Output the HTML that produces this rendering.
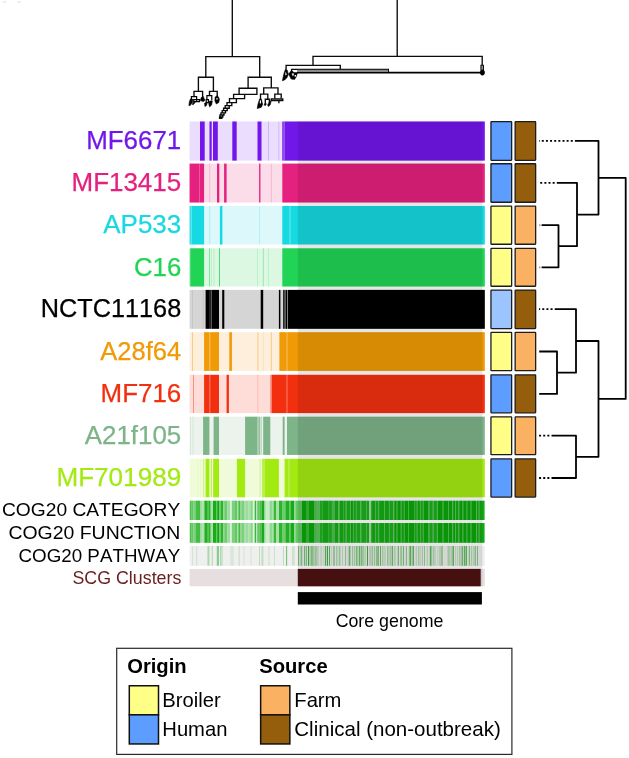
<!DOCTYPE html>
<html lang="en">
<head>
<meta charset="utf-8">
<title>Pangenome</title>
<style>
html,body{margin:0;padding:0;background:#fff;}
body{width:629px;height:758px;overflow:hidden;font-family:"Liberation Sans",Arial,sans-serif;}
svg{display:block;}
</style>
</head>
<body>
<svg width="629" height="758" viewBox="0 0 629 758" font-family="Liberation Sans, Arial, Helvetica, sans-serif" style="font-kerning:none">
<rect width="629" height="758" fill="#ffffff"/>
<ellipse cx="4.4" cy="2" rx="2" ry="0.9" fill="#ebebeb"/><ellipse cx="19" cy="2" rx="2.2" ry="0.9" fill="#ebebeb"/>
<g shape-rendering="auto">
<rect x="189.6" y="121.5" width="295.2" height="39.1" fill="#eaddfd"/>
<rect x="200.0" y="121.5" width="4.7" height="39.1" fill="#7217ea"/>
<rect x="209.5" y="121.5" width="2.2" height="39.1" fill="#7217ea"/>
<rect x="213.0" y="121.5" width="4.8" height="39.1" fill="#7217ea"/>
<rect x="232.3" y="121.5" width="4.4" height="39.1" fill="#7217ea"/>
<rect x="257.5" y="121.5" width="3.5" height="39.1" fill="#7217ea"/>
<rect x="261.0" y="121.5" width="1.0" height="39.1" fill="#7217ea" fill-opacity="0.5"/>
<rect x="268.1" y="121.5" width="0.6" height="39.1" fill="#7217ea" fill-opacity="0.35"/>
<rect x="278.6" y="121.5" width="0.6" height="39.1" fill="#7217ea" fill-opacity="0.3"/>
<rect x="282.3" y="121.5" width="1.4" height="39.1" fill="#7217ea"/>
<rect x="283.7" y="121.5" width="0.7" height="39.1" fill="#7217ea" fill-opacity="0.55"/>
<rect x="284.4" y="121.5" width="200.4" height="39.1" fill="#7217ea"/>
<rect x="189.6" y="163.6" width="295.2" height="38.9" fill="#fbdde9"/>
<rect x="189.6" y="163.6" width="9.4" height="38.9" fill="#e4217e"/>
<rect x="199.0" y="163.6" width="0.6" height="38.9" fill="#e4217e" fill-opacity="0.85"/>
<rect x="199.6" y="163.6" width="4.5" height="38.9" fill="#e4217e"/>
<rect x="209.5" y="163.6" width="0.6" height="38.9" fill="#e4217e" fill-opacity="0.35"/>
<rect x="217.0" y="163.6" width="2.3" height="38.9" fill="#e4217e"/>
<rect x="224.1" y="163.6" width="2.5" height="38.9" fill="#e4217e"/>
<rect x="259.0" y="163.6" width="1.5" height="38.9" fill="#e4217e" fill-opacity="0.9"/>
<rect x="270.9" y="163.6" width="0.6" height="38.9" fill="#e4217e" fill-opacity="0.35"/>
<rect x="282.3" y="163.6" width="202.5" height="38.9" fill="#e4217e"/>
<rect x="189.6" y="206.0" width="295.2" height="38.5" fill="#dcf8fa"/>
<rect x="189.6" y="206.0" width="1.2" height="38.5" fill="#17d9e1"/>
<rect x="190.8" y="206.0" width="0.6" height="38.5" fill="#17d9e1" fill-opacity="0.3"/>
<rect x="191.4" y="206.0" width="12.7" height="38.5" fill="#17d9e1"/>
<rect x="209.5" y="206.0" width="0.6" height="38.5" fill="#17d9e1" fill-opacity="0.4"/>
<rect x="219.9" y="206.0" width="2.5" height="38.5" fill="#17d9e1"/>
<rect x="259.1" y="206.0" width="0.6" height="38.5" fill="#17d9e1" fill-opacity="0.35"/>
<rect x="282.3" y="206.0" width="7.4" height="38.5" fill="#17d9e1"/>
<rect x="289.7" y="206.0" width="0.6" height="38.5" fill="#17d9e1" fill-opacity="0.8"/>
<rect x="290.3" y="206.0" width="194.5" height="38.5" fill="#17d9e1"/>
<rect x="189.6" y="248.3" width="295.2" height="38.2" fill="#dcf8e3"/>
<rect x="189.6" y="248.3" width="0.7" height="38.2" fill="#22d455" fill-opacity="0.5"/>
<rect x="190.3" y="248.3" width="13.8" height="38.2" fill="#22d455"/>
<rect x="209.1" y="248.3" width="0.7" height="38.2" fill="#22d455" fill-opacity="0.7"/>
<rect x="211.4" y="248.3" width="0.6" height="38.2" fill="#22d455" fill-opacity="0.3"/>
<rect x="213.7" y="248.3" width="0.6" height="38.2" fill="#22d455" fill-opacity="0.3"/>
<rect x="219.1" y="248.3" width="0.8" height="38.2" fill="#22d455"/>
<rect x="257.2" y="248.3" width="0.6" height="38.2" fill="#22d455" fill-opacity="0.3"/>
<rect x="262.9" y="248.3" width="0.6" height="38.2" fill="#22d455" fill-opacity="0.6"/>
<rect x="268.3" y="248.3" width="0.6" height="38.2" fill="#22d455" fill-opacity="0.3"/>
<rect x="282.3" y="248.3" width="202.5" height="38.2" fill="#22d455"/>
<rect x="189.6" y="289.9" width="295.2" height="38.9" fill="#d5d5d5"/>
<rect x="192.3" y="289.9" width="0.6" height="38.9" fill="#000000" fill-opacity="0.12"/>
<rect x="202.8" y="289.9" width="0.6" height="38.9" fill="#000000" fill-opacity="0.12"/>
<rect x="205.6" y="289.9" width="4.2" height="38.9" fill="#000000"/>
<rect x="209.8" y="289.9" width="1.2" height="38.9" fill="#000000" fill-opacity="0.85"/>
<rect x="211.0" y="289.9" width="0.7" height="38.9" fill="#000000" fill-opacity="0.6"/>
<rect x="211.7" y="289.9" width="7.3" height="38.9" fill="#000000"/>
<rect x="222.2" y="289.9" width="2.1" height="38.9" fill="#000000"/>
<rect x="260.7" y="289.9" width="2.5" height="38.9" fill="#000000"/>
<rect x="278.9" y="289.9" width="1.5" height="38.9" fill="#000000"/>
<rect x="283.2" y="289.9" width="1.4" height="38.9" fill="#000000"/>
<rect x="284.6" y="289.9" width="0.9" height="38.9" fill="#000000" fill-opacity="0.3"/>
<rect x="285.5" y="289.9" width="1.5" height="38.9" fill="#000000"/>
<rect x="287.0" y="289.9" width="1.0" height="38.9" fill="#000000" fill-opacity="0.4"/>
<rect x="288.0" y="289.9" width="196.8" height="38.9" fill="#000000"/>
<rect x="189.6" y="332.2" width="295.2" height="38.7" fill="#fdefdc"/>
<rect x="192.3" y="332.2" width="0.7" height="38.7" fill="#f09a05" fill-opacity="0.6"/>
<rect x="204.1" y="332.2" width="5.3" height="38.7" fill="#f09a05"/>
<rect x="209.4" y="332.2" width="0.8" height="38.7" fill="#f09a05" fill-opacity="0.75"/>
<rect x="210.2" y="332.2" width="8.8" height="38.7" fill="#f09a05"/>
<rect x="229.3" y="332.2" width="2.6" height="38.7" fill="#f09a05"/>
<rect x="257.6" y="332.2" width="0.7" height="38.7" fill="#f09a05" fill-opacity="0.6"/>
<rect x="262.9" y="332.2" width="0.6" height="38.7" fill="#f09a05" fill-opacity="0.25"/>
<rect x="270.9" y="332.2" width="0.7" height="38.7" fill="#f09a05" fill-opacity="0.6"/>
<rect x="279.4" y="332.2" width="7.3" height="38.7" fill="#f09a05"/>
<rect x="286.7" y="332.2" width="0.6" height="38.7" fill="#f09a05" fill-opacity="0.8"/>
<rect x="287.3" y="332.2" width="197.5" height="38.7" fill="#f09a05"/>
<rect x="189.6" y="374.8" width="295.2" height="38.3" fill="#fedcd8"/>
<rect x="193.3" y="374.8" width="0.7" height="38.3" fill="#f2300f" fill-opacity="0.6"/>
<rect x="204.1" y="374.8" width="5.3" height="38.3" fill="#f2300f"/>
<rect x="209.4" y="374.8" width="0.8" height="38.3" fill="#f2300f" fill-opacity="0.8"/>
<rect x="210.2" y="374.8" width="8.8" height="38.3" fill="#f2300f"/>
<rect x="226.6" y="374.8" width="2.3" height="38.3" fill="#f2300f"/>
<rect x="257.6" y="374.8" width="0.6" height="38.3" fill="#f2300f" fill-opacity="0.3"/>
<rect x="270.3" y="374.8" width="1.5" height="38.3" fill="#f2300f" fill-opacity="0.5"/>
<rect x="271.8" y="374.8" width="14.9" height="38.3" fill="#f2300f"/>
<rect x="286.7" y="374.8" width="0.6" height="38.3" fill="#f2300f" fill-opacity="0.75"/>
<rect x="287.3" y="374.8" width="197.5" height="38.3" fill="#f2300f"/>
<rect x="189.6" y="416.7" width="295.2" height="38.2" fill="#ecf3ed"/>
<rect x="190.4" y="416.7" width="0.6" height="38.2" fill="#7db488" fill-opacity="0.3"/>
<rect x="192.7" y="416.7" width="0.6" height="38.2" fill="#7db488" fill-opacity="0.3"/>
<rect x="203.1" y="416.7" width="6.3" height="38.2" fill="#7db488"/>
<rect x="213.6" y="416.7" width="5.4" height="38.2" fill="#7db488"/>
<rect x="245.1" y="416.7" width="12.4" height="38.2" fill="#7db488"/>
<rect x="257.5" y="416.7" width="1.1" height="38.2" fill="#7db488" fill-opacity="0.5"/>
<rect x="258.6" y="416.7" width="1.2" height="38.2" fill="#7db488"/>
<rect x="260.7" y="416.7" width="0.8" height="38.2" fill="#7db488" fill-opacity="0.8"/>
<rect x="263.2" y="416.7" width="7.1" height="38.2" fill="#7db488"/>
<rect x="282.7" y="416.7" width="1.9" height="38.2" fill="#7db488"/>
<rect x="287.0" y="416.7" width="197.8" height="38.2" fill="#7db488"/>
<rect x="189.6" y="458.8" width="295.2" height="38.5" fill="#f0fcd9"/>
<rect x="197.5" y="458.8" width="0.6" height="38.5" fill="#a3ea12" fill-opacity="0.15"/>
<rect x="200.0" y="458.8" width="0.6" height="38.5" fill="#a3ea12" fill-opacity="0.15"/>
<rect x="203.4" y="458.8" width="0.7" height="38.5" fill="#a3ea12" fill-opacity="0.7"/>
<rect x="205.6" y="458.8" width="3.8" height="38.5" fill="#a3ea12"/>
<rect x="210.8" y="458.8" width="0.9" height="38.5" fill="#a3ea12" fill-opacity="0.9"/>
<rect x="213.2" y="458.8" width="5.8" height="38.5" fill="#a3ea12"/>
<rect x="236.9" y="458.8" width="8.2" height="38.5" fill="#a3ea12"/>
<rect x="259.7" y="458.8" width="0.7" height="38.5" fill="#a3ea12" fill-opacity="0.6"/>
<rect x="262.3" y="458.8" width="1.3" height="38.5" fill="#a3ea12"/>
<rect x="263.6" y="458.8" width="0.8" height="38.5" fill="#a3ea12" fill-opacity="0.5"/>
<rect x="264.4" y="458.8" width="14.5" height="38.5" fill="#a3ea12"/>
<rect x="284.6" y="458.8" width="4.1" height="38.5" fill="#a3ea12"/>
<rect x="288.7" y="458.8" width="0.6" height="38.5" fill="#a3ea12" fill-opacity="0.8"/>
<rect x="289.3" y="458.8" width="195.5" height="38.5" fill="#a3ea12"/>
</g>
<text x="181.2" y="149.2" font-size="25.5" text-anchor="end" fill="#7217ea" stroke="#7217ea" stroke-width="0.25" textLength="95.0" lengthAdjust="spacingAndGlyphs">MF6671</text>
<text x="181.2" y="191.2" font-size="25.5" text-anchor="end" fill="#e4217e" stroke="#e4217e" stroke-width="0.25" textLength="109.7" lengthAdjust="spacingAndGlyphs">MF13415</text>
<text x="181.2" y="233.4" font-size="25.5" text-anchor="end" fill="#17d9e1" stroke="#17d9e1" stroke-width="0.25" textLength="77.9" lengthAdjust="spacingAndGlyphs">AP533</text>
<text x="181.2" y="275.5" font-size="25.5" text-anchor="end" fill="#22d455" stroke="#22d455" stroke-width="0.25" textLength="47.2" lengthAdjust="spacingAndGlyphs">C16</text>
<text x="181.2" y="317.4" font-size="25.5" text-anchor="end" fill="#000000" stroke="#000000" stroke-width="0.25" textLength="140.5" lengthAdjust="spacingAndGlyphs">NCTC11168</text>
<text x="181.2" y="359.7" font-size="25.5" text-anchor="end" fill="#f09a05" stroke="#f09a05" stroke-width="0.25" textLength="80.9" lengthAdjust="spacingAndGlyphs">A28f64</text>
<text x="181.2" y="402.1" font-size="25.5" text-anchor="end" fill="#f2300f" stroke="#f2300f" stroke-width="0.25" textLength="80.6" lengthAdjust="spacingAndGlyphs">MF716</text>
<text x="181.2" y="443.9" font-size="25.5" text-anchor="end" fill="#7db488" stroke="#7db488" stroke-width="0.25" textLength="96.4" lengthAdjust="spacingAndGlyphs">A21f105</text>
<text x="181.2" y="486.2" font-size="25.5" text-anchor="end" fill="#a3ea12" stroke="#a3ea12" stroke-width="0.25" textLength="124.8" lengthAdjust="spacingAndGlyphs">MF701989</text>
<rect x="189.6" y="500.7" width="295.2" height="19.3" fill="#ecf8ec"/>
<rect x="189.8" y="500.7" width="1.95" height="19.3" fill="#4ec04e"/>
<rect x="191.7" y="500.7" width="1.95" height="19.3" fill="#64c864"/>
<rect x="193.6" y="500.7" width="1.95" height="19.3" fill="#7bd07b"/>
<rect x="195.5" y="500.7" width="4.55" height="19.3" fill="#42bc42"/>
<rect x="200.0" y="500.7" width="2.05" height="19.3" fill="#9ddc9d"/>
<rect x="202.0" y="500.7" width="1.85" height="19.3" fill="#b4e4b4"/>
<rect x="203.8" y="500.7" width="1.25" height="19.3" fill="#64c864"/>
<rect x="205.0" y="500.7" width="2.05" height="19.3" fill="#21b021"/>
<rect x="207.0" y="500.7" width="1.35" height="19.3" fill="#4ec04e"/>
<rect x="208.3" y="500.7" width="1.95" height="19.3" fill="#2cb42c"/>
<rect x="210.2" y="500.7" width="1.35" height="19.3" fill="#64c864"/>
<rect x="211.5" y="500.7" width="1.55" height="19.3" fill="#a8e0a8"/>
<rect x="213.0" y="500.7" width="3.05" height="19.3" fill="#15ac15"/>
<rect x="216.0" y="500.7" width="1.25" height="19.3" fill="#64c864"/>
<rect x="217.2" y="500.7" width="2.15" height="19.3" fill="#0aa80a"/>
<rect x="219.3" y="500.7" width="1.35" height="19.3" fill="#64c864"/>
<rect x="220.6" y="500.7" width="2.45" height="19.3" fill="#2cb42c"/>
<rect x="223.0" y="500.7" width="1.25" height="19.3" fill="#92d892"/>
<rect x="224.2" y="500.7" width="3.15" height="19.3" fill="#70cc70"/>
<rect x="227.3" y="500.7" width="2.75" height="19.3" fill="#9ddc9d"/>
<rect x="230.0" y="500.7" width="1.85" height="19.3" fill="#daf2da"/>
<rect x="231.8" y="500.7" width="3.25" height="19.3" fill="#7bd07b"/>
<rect x="235.0" y="500.7" width="2.05" height="19.3" fill="#64c864"/>
<rect x="237.0" y="500.7" width="1.45" height="19.3" fill="#a8e0a8"/>
<rect x="238.4" y="500.7" width="1.65" height="19.3" fill="#42bc42"/>
<rect x="240.0" y="500.7" width="2.05" height="19.3" fill="#92d892"/>
<rect x="242.0" y="500.7" width="2.05" height="19.3" fill="#7bd07b"/>
<rect x="244.0" y="500.7" width="2.05" height="19.3" fill="#a8e0a8"/>
<rect x="246.0" y="500.7" width="2.35" height="19.3" fill="#9ddc9d"/>
<rect x="248.3" y="500.7" width="2.75" height="19.3" fill="#a8e0a8"/>
<rect x="251.0" y="500.7" width="1.85" height="19.3" fill="#86d486"/>
<rect x="252.8" y="500.7" width="1.95" height="19.3" fill="#daf2da"/>
<rect x="254.7" y="500.7" width="1.35" height="19.3" fill="#37b837"/>
<rect x="256.0" y="500.7" width="1.25" height="19.3" fill="#bfe8bf"/>
<rect x="257.2" y="500.7" width="2.65" height="19.3" fill="#64c864"/>
<rect x="259.8" y="500.7" width="1.95" height="19.3" fill="#4ec04e"/>
<rect x="261.7" y="500.7" width="2.35" height="19.3" fill="#15ac15"/>
<rect x="264.0" y="500.7" width="1.75" height="19.3" fill="#92d892"/>
<rect x="265.7" y="500.7" width="3.85" height="19.3" fill="#caecca"/>
<rect x="269.5" y="500.7" width="2.55" height="19.3" fill="#92d892"/>
<rect x="272.0" y="500.7" width="1.75" height="19.3" fill="#a8e0a8"/>
<rect x="273.7" y="500.7" width="2.35" height="19.3" fill="#37b837"/>
<rect x="276.0" y="500.7" width="3.05" height="19.3" fill="#a8e0a8"/>
<rect x="279.0" y="500.7" width="3.05" height="19.3" fill="#2cb42c"/>
<rect x="282.0" y="500.7" width="3.45" height="19.3" fill="#70cc70"/>
<rect x="285.4" y="500.7" width="3.95" height="19.3" fill="#21b021"/>
<rect x="289.3" y="500.7" width="1.25" height="19.3" fill="#4ec04e"/>
<rect x="290.5" y="500.7" width="3.55" height="19.3" fill="#15ac15"/>
<rect x="294.0" y="500.7" width="1.45" height="19.3" fill="#92d892"/>
<rect x="295.4" y="500.7" width="2.65" height="19.3" fill="#64c864"/>
<rect x="298.0" y="500.7" width="4.05" height="19.3" fill="#64c864"/>
<rect x="302.0" y="500.7" width="4.05" height="19.3" fill="#0aa80a"/>
<rect x="306.0" y="500.7" width="2.35" height="19.3" fill="#37b837"/>
<rect x="308.3" y="500.7" width="5.75" height="19.3" fill="#0aa80a"/>
<rect x="314.0" y="500.7" width="2.05" height="19.3" fill="#4ec04e"/>
<rect x="316.0" y="500.7" width="3.85" height="19.3" fill="#59c459"/>
<rect x="319.8" y="500.7" width="2.55" height="19.3" fill="#21b021"/>
<rect x="322.3" y="500.7" width="6.45" height="19.3" fill="#15ac15"/>
<rect x="328.7" y="500.7" width="3.25" height="19.3" fill="#21b021"/>
<rect x="331.9" y="500.7" width="3.15" height="19.3" fill="#4ec04e"/>
<rect x="335.0" y="500.7" width="3.25" height="19.3" fill="#15ac15"/>
<rect x="338.2" y="500.7" width="1.85" height="19.3" fill="#4ec04e"/>
<rect x="340.0" y="500.7" width="3.05" height="19.3" fill="#13ab13"/>
<rect x="343.0" y="500.7" width="0.85" height="19.3" fill="#2cb42c"/>
<rect x="343.8" y="500.7" width="2.05" height="19.3" fill="#1cae1c"/>
<rect x="345.8" y="500.7" width="0.65" height="19.3" fill="#52c252"/>
<rect x="346.4" y="500.7" width="4.05" height="19.3" fill="#1cae1c"/>
<rect x="350.4" y="500.7" width="0.55" height="19.3" fill="#45bd45"/>
<rect x="350.9" y="500.7" width="2.05" height="19.3" fill="#0aa80a"/>
<rect x="352.9" y="500.7" width="0.55" height="19.3" fill="#2cb42c"/>
<rect x="353.4" y="500.7" width="2.55" height="19.3" fill="#1cae1c"/>
<rect x="355.9" y="500.7" width="0.55" height="19.3" fill="#2cb42c"/>
<rect x="356.4" y="500.7" width="4.05" height="19.3" fill="#1cae1c"/>
<rect x="360.4" y="500.7" width="0.85" height="19.3" fill="#45bd45"/>
<rect x="361.2" y="500.7" width="5.05" height="19.3" fill="#1cae1c"/>
<rect x="366.2" y="500.7" width="0.55" height="19.3" fill="#2cb42c"/>
<rect x="366.7" y="500.7" width="2.55" height="19.3" fill="#1cae1c"/>
<rect x="369.2" y="500.7" width="2.05" height="19.3" fill="#9ddc9d"/>
<rect x="371.2" y="500.7" width="4.05" height="19.3" fill="#13ab13"/>
<rect x="375.2" y="500.7" width="0.65" height="19.3" fill="#37b837"/>
<rect x="375.8" y="500.7" width="2.55" height="19.3" fill="#1cae1c"/>
<rect x="378.3" y="500.7" width="0.85" height="19.3" fill="#37b837"/>
<rect x="379.1" y="500.7" width="5.05" height="19.3" fill="#13ab13"/>
<rect x="384.1" y="500.7" width="0.85" height="19.3" fill="#52c252"/>
<rect x="384.9" y="500.7" width="4.05" height="19.3" fill="#13ab13"/>
<rect x="388.9" y="500.7" width="0.55" height="19.3" fill="#37b837"/>
<rect x="389.4" y="500.7" width="4.05" height="19.3" fill="#1cae1c"/>
<rect x="393.4" y="500.7" width="0.85" height="19.3" fill="#52c252"/>
<rect x="394.2" y="500.7" width="2.55" height="19.3" fill="#0aa80a"/>
<rect x="396.7" y="500.7" width="0.65" height="19.3" fill="#2cb42c"/>
<rect x="397.3" y="500.7" width="3.55" height="19.3" fill="#0aa80a"/>
<rect x="400.8" y="500.7" width="0.65" height="19.3" fill="#37b837"/>
<rect x="401.4" y="500.7" width="2.55" height="19.3" fill="#13ab13"/>
<rect x="403.9" y="500.7" width="0.55" height="19.3" fill="#45bd45"/>
<rect x="404.4" y="500.7" width="4.05" height="19.3" fill="#0aa80a"/>
<rect x="408.4" y="500.7" width="0.65" height="19.3" fill="#2cb42c"/>
<rect x="409.0" y="500.7" width="5.05" height="19.3" fill="#0aa80a"/>
<rect x="414.0" y="500.7" width="0.85" height="19.3" fill="#37b837"/>
<rect x="414.8" y="500.7" width="2.05" height="19.3" fill="#1cae1c"/>
<rect x="416.8" y="500.7" width="0.55" height="19.3" fill="#2cb42c"/>
<rect x="417.3" y="500.7" width="3.05" height="19.3" fill="#13ab13"/>
<rect x="420.3" y="500.7" width="0.65" height="19.3" fill="#2cb42c"/>
<rect x="420.9" y="500.7" width="2.05" height="19.3" fill="#1cae1c"/>
<rect x="422.9" y="500.7" width="0.65" height="19.3" fill="#37b837"/>
<rect x="423.5" y="500.7" width="5.05" height="19.3" fill="#0aa80a"/>
<rect x="428.5" y="500.7" width="0.85" height="19.3" fill="#2cb42c"/>
<rect x="429.3" y="500.7" width="3.55" height="19.3" fill="#1cae1c"/>
<rect x="432.8" y="500.7" width="0.65" height="19.3" fill="#52c252"/>
<rect x="433.4" y="500.7" width="3.55" height="19.3" fill="#1cae1c"/>
<rect x="436.9" y="500.7" width="0.85" height="19.3" fill="#52c252"/>
<rect x="437.7" y="500.7" width="5.05" height="19.3" fill="#0aa80a"/>
<rect x="442.7" y="500.7" width="0.65" height="19.3" fill="#2cb42c"/>
<rect x="443.3" y="500.7" width="5.05" height="19.3" fill="#0aa80a"/>
<rect x="448.3" y="500.7" width="0.55" height="19.3" fill="#37b837"/>
<rect x="448.8" y="500.7" width="3.55" height="19.3" fill="#0aa80a"/>
<rect x="452.3" y="500.7" width="0.85" height="19.3" fill="#45bd45"/>
<rect x="453.1" y="500.7" width="2.05" height="19.3" fill="#0aa80a"/>
<rect x="455.1" y="500.7" width="0.55" height="19.3" fill="#52c252"/>
<rect x="455.6" y="500.7" width="3.05" height="19.3" fill="#13ab13"/>
<rect x="458.6" y="500.7" width="0.65" height="19.3" fill="#45bd45"/>
<rect x="459.2" y="500.7" width="3.55" height="19.3" fill="#0aa80a"/>
<rect x="462.7" y="500.7" width="0.55" height="19.3" fill="#52c252"/>
<rect x="463.2" y="500.7" width="3.55" height="19.3" fill="#0aa80a"/>
<rect x="466.7" y="500.7" width="0.55" height="19.3" fill="#37b837"/>
<rect x="467.2" y="500.7" width="3.55" height="19.3" fill="#0aa80a"/>
<rect x="470.7" y="500.7" width="0.65" height="19.3" fill="#2cb42c"/>
<rect x="471.3" y="500.7" width="5.05" height="19.3" fill="#0aa80a"/>
<rect x="476.3" y="500.7" width="0.55" height="19.3" fill="#45bd45"/>
<rect x="476.8" y="500.7" width="2.05" height="19.3" fill="#13ab13"/>
<rect x="478.8" y="500.7" width="0.55" height="19.3" fill="#45bd45"/>
<rect x="479.3" y="500.7" width="5.05" height="19.3" fill="#13ab13"/>
<rect x="484.3" y="500.7" width="0.55" height="19.3" fill="#52c252"/>
<rect x="189.6" y="523.0" width="295.2" height="19.8" fill="#ecf8ec"/>
<rect x="189.8" y="523.0" width="1.95" height="19.8" fill="#4ec04e"/>
<rect x="191.7" y="523.0" width="1.95" height="19.8" fill="#64c864"/>
<rect x="193.6" y="523.0" width="1.95" height="19.8" fill="#7bd07b"/>
<rect x="195.5" y="523.0" width="4.55" height="19.8" fill="#42bc42"/>
<rect x="200.0" y="523.0" width="2.05" height="19.8" fill="#9ddc9d"/>
<rect x="202.0" y="523.0" width="1.85" height="19.8" fill="#b4e4b4"/>
<rect x="203.8" y="523.0" width="1.25" height="19.8" fill="#64c864"/>
<rect x="205.0" y="523.0" width="2.05" height="19.8" fill="#21b021"/>
<rect x="207.0" y="523.0" width="1.35" height="19.8" fill="#4ec04e"/>
<rect x="208.3" y="523.0" width="1.95" height="19.8" fill="#2cb42c"/>
<rect x="210.2" y="523.0" width="1.35" height="19.8" fill="#64c864"/>
<rect x="211.5" y="523.0" width="1.55" height="19.8" fill="#a8e0a8"/>
<rect x="213.0" y="523.0" width="3.05" height="19.8" fill="#15ac15"/>
<rect x="216.0" y="523.0" width="1.25" height="19.8" fill="#64c864"/>
<rect x="217.2" y="523.0" width="2.15" height="19.8" fill="#0aa80a"/>
<rect x="219.3" y="523.0" width="1.35" height="19.8" fill="#64c864"/>
<rect x="220.6" y="523.0" width="2.45" height="19.8" fill="#2cb42c"/>
<rect x="223.0" y="523.0" width="1.25" height="19.8" fill="#92d892"/>
<rect x="224.2" y="523.0" width="3.15" height="19.8" fill="#70cc70"/>
<rect x="227.3" y="523.0" width="2.75" height="19.8" fill="#9ddc9d"/>
<rect x="230.0" y="523.0" width="1.85" height="19.8" fill="#daf2da"/>
<rect x="231.8" y="523.0" width="3.25" height="19.8" fill="#7bd07b"/>
<rect x="235.0" y="523.0" width="2.05" height="19.8" fill="#64c864"/>
<rect x="237.0" y="523.0" width="1.45" height="19.8" fill="#a8e0a8"/>
<rect x="238.4" y="523.0" width="1.65" height="19.8" fill="#42bc42"/>
<rect x="240.0" y="523.0" width="2.05" height="19.8" fill="#92d892"/>
<rect x="242.0" y="523.0" width="2.05" height="19.8" fill="#7bd07b"/>
<rect x="244.0" y="523.0" width="2.05" height="19.8" fill="#a8e0a8"/>
<rect x="246.0" y="523.0" width="2.35" height="19.8" fill="#9ddc9d"/>
<rect x="248.3" y="523.0" width="2.75" height="19.8" fill="#a8e0a8"/>
<rect x="251.0" y="523.0" width="1.85" height="19.8" fill="#86d486"/>
<rect x="252.8" y="523.0" width="1.95" height="19.8" fill="#daf2da"/>
<rect x="254.7" y="523.0" width="1.35" height="19.8" fill="#37b837"/>
<rect x="256.0" y="523.0" width="1.25" height="19.8" fill="#bfe8bf"/>
<rect x="257.2" y="523.0" width="2.65" height="19.8" fill="#64c864"/>
<rect x="259.8" y="523.0" width="1.95" height="19.8" fill="#4ec04e"/>
<rect x="261.7" y="523.0" width="2.35" height="19.8" fill="#15ac15"/>
<rect x="264.0" y="523.0" width="1.75" height="19.8" fill="#92d892"/>
<rect x="265.7" y="523.0" width="3.85" height="19.8" fill="#caecca"/>
<rect x="269.5" y="523.0" width="2.55" height="19.8" fill="#92d892"/>
<rect x="272.0" y="523.0" width="1.75" height="19.8" fill="#a8e0a8"/>
<rect x="273.7" y="523.0" width="2.35" height="19.8" fill="#37b837"/>
<rect x="276.0" y="523.0" width="3.05" height="19.8" fill="#a8e0a8"/>
<rect x="279.0" y="523.0" width="3.05" height="19.8" fill="#2cb42c"/>
<rect x="282.0" y="523.0" width="3.45" height="19.8" fill="#70cc70"/>
<rect x="285.4" y="523.0" width="3.95" height="19.8" fill="#21b021"/>
<rect x="289.3" y="523.0" width="1.25" height="19.8" fill="#4ec04e"/>
<rect x="290.5" y="523.0" width="3.55" height="19.8" fill="#15ac15"/>
<rect x="294.0" y="523.0" width="1.45" height="19.8" fill="#92d892"/>
<rect x="295.4" y="523.0" width="2.65" height="19.8" fill="#64c864"/>
<rect x="298.0" y="523.0" width="4.05" height="19.8" fill="#64c864"/>
<rect x="302.0" y="523.0" width="4.05" height="19.8" fill="#0aa80a"/>
<rect x="306.0" y="523.0" width="2.35" height="19.8" fill="#37b837"/>
<rect x="308.3" y="523.0" width="5.75" height="19.8" fill="#0aa80a"/>
<rect x="314.0" y="523.0" width="2.05" height="19.8" fill="#4ec04e"/>
<rect x="316.0" y="523.0" width="3.85" height="19.8" fill="#59c459"/>
<rect x="319.8" y="523.0" width="2.55" height="19.8" fill="#21b021"/>
<rect x="322.3" y="523.0" width="6.45" height="19.8" fill="#15ac15"/>
<rect x="328.7" y="523.0" width="3.25" height="19.8" fill="#21b021"/>
<rect x="331.9" y="523.0" width="3.15" height="19.8" fill="#4ec04e"/>
<rect x="335.0" y="523.0" width="3.25" height="19.8" fill="#15ac15"/>
<rect x="338.2" y="523.0" width="1.85" height="19.8" fill="#4ec04e"/>
<rect x="340.0" y="523.0" width="3.05" height="19.8" fill="#13ab13"/>
<rect x="343.0" y="523.0" width="0.85" height="19.8" fill="#2cb42c"/>
<rect x="343.8" y="523.0" width="2.05" height="19.8" fill="#1cae1c"/>
<rect x="345.8" y="523.0" width="0.65" height="19.8" fill="#52c252"/>
<rect x="346.4" y="523.0" width="4.05" height="19.8" fill="#1cae1c"/>
<rect x="350.4" y="523.0" width="0.55" height="19.8" fill="#45bd45"/>
<rect x="350.9" y="523.0" width="2.05" height="19.8" fill="#0aa80a"/>
<rect x="352.9" y="523.0" width="0.55" height="19.8" fill="#2cb42c"/>
<rect x="353.4" y="523.0" width="2.55" height="19.8" fill="#1cae1c"/>
<rect x="355.9" y="523.0" width="0.55" height="19.8" fill="#2cb42c"/>
<rect x="356.4" y="523.0" width="4.05" height="19.8" fill="#1cae1c"/>
<rect x="360.4" y="523.0" width="0.85" height="19.8" fill="#45bd45"/>
<rect x="361.2" y="523.0" width="5.05" height="19.8" fill="#1cae1c"/>
<rect x="366.2" y="523.0" width="0.55" height="19.8" fill="#2cb42c"/>
<rect x="366.7" y="523.0" width="2.55" height="19.8" fill="#1cae1c"/>
<rect x="369.2" y="523.0" width="2.05" height="19.8" fill="#9ddc9d"/>
<rect x="371.2" y="523.0" width="4.05" height="19.8" fill="#13ab13"/>
<rect x="375.2" y="523.0" width="0.65" height="19.8" fill="#37b837"/>
<rect x="375.8" y="523.0" width="2.55" height="19.8" fill="#1cae1c"/>
<rect x="378.3" y="523.0" width="0.85" height="19.8" fill="#37b837"/>
<rect x="379.1" y="523.0" width="5.05" height="19.8" fill="#13ab13"/>
<rect x="384.1" y="523.0" width="0.85" height="19.8" fill="#52c252"/>
<rect x="384.9" y="523.0" width="4.05" height="19.8" fill="#13ab13"/>
<rect x="388.9" y="523.0" width="0.55" height="19.8" fill="#37b837"/>
<rect x="389.4" y="523.0" width="4.05" height="19.8" fill="#1cae1c"/>
<rect x="393.4" y="523.0" width="0.85" height="19.8" fill="#52c252"/>
<rect x="394.2" y="523.0" width="2.55" height="19.8" fill="#0aa80a"/>
<rect x="396.7" y="523.0" width="0.65" height="19.8" fill="#2cb42c"/>
<rect x="397.3" y="523.0" width="3.55" height="19.8" fill="#0aa80a"/>
<rect x="400.8" y="523.0" width="0.65" height="19.8" fill="#37b837"/>
<rect x="401.4" y="523.0" width="2.55" height="19.8" fill="#13ab13"/>
<rect x="403.9" y="523.0" width="0.55" height="19.8" fill="#45bd45"/>
<rect x="404.4" y="523.0" width="4.05" height="19.8" fill="#0aa80a"/>
<rect x="408.4" y="523.0" width="0.65" height="19.8" fill="#2cb42c"/>
<rect x="409.0" y="523.0" width="5.05" height="19.8" fill="#0aa80a"/>
<rect x="414.0" y="523.0" width="0.85" height="19.8" fill="#37b837"/>
<rect x="414.8" y="523.0" width="2.05" height="19.8" fill="#1cae1c"/>
<rect x="416.8" y="523.0" width="0.55" height="19.8" fill="#2cb42c"/>
<rect x="417.3" y="523.0" width="3.05" height="19.8" fill="#13ab13"/>
<rect x="420.3" y="523.0" width="0.65" height="19.8" fill="#2cb42c"/>
<rect x="420.9" y="523.0" width="2.05" height="19.8" fill="#1cae1c"/>
<rect x="422.9" y="523.0" width="0.65" height="19.8" fill="#37b837"/>
<rect x="423.5" y="523.0" width="5.05" height="19.8" fill="#0aa80a"/>
<rect x="428.5" y="523.0" width="0.85" height="19.8" fill="#2cb42c"/>
<rect x="429.3" y="523.0" width="3.55" height="19.8" fill="#1cae1c"/>
<rect x="432.8" y="523.0" width="0.65" height="19.8" fill="#52c252"/>
<rect x="433.4" y="523.0" width="3.55" height="19.8" fill="#1cae1c"/>
<rect x="436.9" y="523.0" width="0.85" height="19.8" fill="#52c252"/>
<rect x="437.7" y="523.0" width="5.05" height="19.8" fill="#0aa80a"/>
<rect x="442.7" y="523.0" width="0.65" height="19.8" fill="#2cb42c"/>
<rect x="443.3" y="523.0" width="5.05" height="19.8" fill="#0aa80a"/>
<rect x="448.3" y="523.0" width="0.55" height="19.8" fill="#37b837"/>
<rect x="448.8" y="523.0" width="3.55" height="19.8" fill="#0aa80a"/>
<rect x="452.3" y="523.0" width="0.85" height="19.8" fill="#45bd45"/>
<rect x="453.1" y="523.0" width="2.05" height="19.8" fill="#0aa80a"/>
<rect x="455.1" y="523.0" width="0.55" height="19.8" fill="#52c252"/>
<rect x="455.6" y="523.0" width="3.05" height="19.8" fill="#13ab13"/>
<rect x="458.6" y="523.0" width="0.65" height="19.8" fill="#45bd45"/>
<rect x="459.2" y="523.0" width="3.55" height="19.8" fill="#0aa80a"/>
<rect x="462.7" y="523.0" width="0.55" height="19.8" fill="#52c252"/>
<rect x="463.2" y="523.0" width="3.55" height="19.8" fill="#0aa80a"/>
<rect x="466.7" y="523.0" width="0.55" height="19.8" fill="#37b837"/>
<rect x="467.2" y="523.0" width="3.55" height="19.8" fill="#0aa80a"/>
<rect x="470.7" y="523.0" width="0.65" height="19.8" fill="#2cb42c"/>
<rect x="471.3" y="523.0" width="5.05" height="19.8" fill="#0aa80a"/>
<rect x="476.3" y="523.0" width="0.55" height="19.8" fill="#45bd45"/>
<rect x="476.8" y="523.0" width="2.05" height="19.8" fill="#13ab13"/>
<rect x="478.8" y="523.0" width="0.55" height="19.8" fill="#45bd45"/>
<rect x="479.3" y="523.0" width="5.05" height="19.8" fill="#13ab13"/>
<rect x="484.3" y="523.0" width="0.55" height="19.8" fill="#52c252"/>
<rect x="189.6" y="546.0" width="295.2" height="19.8" fill="#efefef"/>
<rect x="192.0" y="546.0" width="0.9" height="19.8" fill="#22a822" fill-opacity="0.15"/>
<rect x="196.3" y="546.0" width="0.9" height="19.8" fill="#22a822" fill-opacity="0.2"/>
<rect x="207.6" y="546.0" width="0.9" height="19.8" fill="#22a822" fill-opacity="0.45"/>
<rect x="208.6" y="546.0" width="0.9" height="19.8" fill="#22a822" fill-opacity="0.3"/>
<rect x="211.8" y="546.0" width="0.9" height="19.8" fill="#22a822" fill-opacity="0.35"/>
<rect x="216.8" y="546.0" width="0.9" height="19.8" fill="#22a822" fill-opacity="0.55"/>
<rect x="217.8" y="546.0" width="0.9" height="19.8" fill="#22a822" fill-opacity="0.7"/>
<rect x="220.2" y="546.0" width="0.9" height="19.8" fill="#22a822" fill-opacity="0.4"/>
<rect x="221.6" y="546.0" width="0.9" height="19.8" fill="#22a822" fill-opacity="0.35"/>
<rect x="230.6" y="546.0" width="0.9" height="19.8" fill="#22a822" fill-opacity="0.2"/>
<rect x="232.5" y="546.0" width="0.9" height="19.8" fill="#22a822" fill-opacity="0.2"/>
<rect x="238.7" y="546.0" width="0.9" height="19.8" fill="#22a822" fill-opacity="0.25"/>
<rect x="243.5" y="546.0" width="0.9" height="19.8" fill="#22a822" fill-opacity="0.15"/>
<rect x="250.6" y="546.0" width="0.9" height="19.8" fill="#22a822" fill-opacity="0.15"/>
<rect x="259.0" y="546.0" width="0.9" height="19.8" fill="#22a822" fill-opacity="0.25"/>
<rect x="261.6" y="546.0" width="0.9" height="19.8" fill="#22a822" fill-opacity="0.3"/>
<rect x="262.6" y="546.0" width="0.9" height="19.8" fill="#22a822" fill-opacity="0.2"/>
<rect x="268.5" y="546.0" width="0.9" height="19.8" fill="#22a822" fill-opacity="0.2"/>
<rect x="274.0" y="546.0" width="0.9" height="19.8" fill="#22a822" fill-opacity="0.2"/>
<rect x="283.0" y="546.0" width="0.9" height="19.8" fill="#22a822" fill-opacity="0.25"/>
<rect x="286.2" y="546.0" width="0.9" height="19.8" fill="#22a822" fill-opacity="0.75"/>
<rect x="292.0" y="546.0" width="0.9" height="19.8" fill="#22a822" fill-opacity="0.2"/>
<rect x="293.5" y="546.0" width="0.9" height="19.8" fill="#22a822" fill-opacity="0.3"/>
<rect x="298.0" y="546.0" width="0.8" height="19.8" fill="#1ea51e" fill-opacity="0.7"/>
<rect x="299.8" y="546.0" width="0.6" height="19.8" fill="#1ea51e" fill-opacity="0.5"/>
<rect x="301.2" y="546.0" width="1.0" height="19.8" fill="#1ea51e" fill-opacity="0.6"/>
<rect x="304.2" y="546.0" width="1.0" height="19.8" fill="#1ea51e" fill-opacity="0.7"/>
<rect x="306.0" y="546.0" width="0.6" height="19.8" fill="#1ea51e" fill-opacity="0.85"/>
<rect x="308.0" y="546.0" width="1.2" height="19.8" fill="#1ea51e" fill-opacity="0.85"/>
<rect x="310.6" y="546.0" width="1.2" height="19.8" fill="#1ea51e" fill-opacity="0.6"/>
<rect x="312.3" y="546.0" width="1.2" height="19.8" fill="#1ea51e" fill-opacity="0.6"/>
<rect x="314.0" y="546.0" width="0.6" height="19.8" fill="#1ea51e" fill-opacity="0.35"/>
<rect x="315.4" y="546.0" width="0.8" height="19.8" fill="#1ea51e" fill-opacity="0.6"/>
<rect x="316.7" y="546.0" width="0.6" height="19.8" fill="#1ea51e" fill-opacity="0.5"/>
<rect x="317.8" y="546.0" width="0.8" height="19.8" fill="#1ea51e" fill-opacity="0.25"/>
<rect x="320.6" y="546.0" width="1.0" height="19.8" fill="#1ea51e" fill-opacity="0.25"/>
<rect x="323.6" y="546.0" width="0.6" height="19.8" fill="#1ea51e" fill-opacity="0.25"/>
<rect x="325.0" y="546.0" width="1.2" height="19.8" fill="#1ea51e" fill-opacity="0.7"/>
<rect x="327.0" y="546.0" width="1.0" height="19.8" fill="#1ea51e" fill-opacity="0.85"/>
<rect x="329.0" y="546.0" width="1.0" height="19.8" fill="#1ea51e" fill-opacity="0.7"/>
<rect x="331.4" y="546.0" width="0.6" height="19.8" fill="#1ea51e" fill-opacity="0.25"/>
<rect x="333.4" y="546.0" width="1.2" height="19.8" fill="#1ea51e" fill-opacity="0.6"/>
<rect x="336.0" y="546.0" width="0.6" height="19.8" fill="#1ea51e" fill-opacity="0.5"/>
<rect x="337.4" y="546.0" width="1.0" height="19.8" fill="#1ea51e" fill-opacity="0.25"/>
<rect x="339.4" y="546.0" width="0.8" height="19.8" fill="#1ea51e" fill-opacity="0.6"/>
<rect x="342.2" y="546.0" width="0.8" height="19.8" fill="#1ea51e" fill-opacity="0.25"/>
<rect x="345.0" y="546.0" width="0.8" height="19.8" fill="#1ea51e" fill-opacity="0.5"/>
<rect x="347.8" y="546.0" width="1.0" height="19.8" fill="#1ea51e" fill-opacity="0.25"/>
<rect x="349.3" y="546.0" width="1.0" height="19.8" fill="#1ea51e" fill-opacity="0.85"/>
<rect x="352.3" y="546.0" width="0.8" height="19.8" fill="#1ea51e" fill-opacity="0.5"/>
<rect x="354.1" y="546.0" width="1.0" height="19.8" fill="#1ea51e" fill-opacity="0.35"/>
<rect x="355.9" y="546.0" width="0.8" height="19.8" fill="#1ea51e" fill-opacity="0.7"/>
<rect x="357.5" y="546.0" width="0.8" height="19.8" fill="#1ea51e" fill-opacity="0.6"/>
<rect x="359.1" y="546.0" width="1.2" height="19.8" fill="#1ea51e" fill-opacity="0.7"/>
<rect x="361.3" y="546.0" width="0.6" height="19.8" fill="#1ea51e" fill-opacity="0.85"/>
<rect x="362.4" y="546.0" width="1.2" height="19.8" fill="#1ea51e" fill-opacity="0.5"/>
<rect x="364.6" y="546.0" width="1.0" height="19.8" fill="#1ea51e" fill-opacity="0.35"/>
<rect x="367.0" y="546.0" width="1.0" height="19.8" fill="#1ea51e" fill-opacity="0.85"/>
<rect x="369.0" y="546.0" width="0.8" height="19.8" fill="#1ea51e" fill-opacity="0.25"/>
<rect x="370.3" y="546.0" width="1.2" height="19.8" fill="#1ea51e" fill-opacity="0.35"/>
<rect x="372.3" y="546.0" width="0.8" height="19.8" fill="#1ea51e" fill-opacity="0.5"/>
<rect x="374.5" y="546.0" width="0.6" height="19.8" fill="#1ea51e" fill-opacity="0.7"/>
<rect x="376.5" y="546.0" width="1.0" height="19.8" fill="#1ea51e" fill-opacity="0.85"/>
<rect x="378.0" y="546.0" width="0.6" height="19.8" fill="#1ea51e" fill-opacity="0.85"/>
<rect x="380.0" y="546.0" width="0.8" height="19.8" fill="#1ea51e" fill-opacity="0.85"/>
<rect x="382.2" y="546.0" width="1.2" height="19.8" fill="#1ea51e" fill-opacity="0.35"/>
<rect x="384.4" y="546.0" width="1.2" height="19.8" fill="#1ea51e" fill-opacity="0.25"/>
<rect x="387.0" y="546.0" width="0.6" height="19.8" fill="#1ea51e" fill-opacity="0.6"/>
<rect x="388.4" y="546.0" width="0.8" height="19.8" fill="#1ea51e" fill-opacity="0.35"/>
<rect x="389.7" y="546.0" width="1.2" height="19.8" fill="#1ea51e" fill-opacity="0.35"/>
<rect x="391.7" y="546.0" width="1.2" height="19.8" fill="#1ea51e" fill-opacity="0.7"/>
<rect x="393.9" y="546.0" width="0.8" height="19.8" fill="#1ea51e" fill-opacity="0.35"/>
<rect x="395.2" y="546.0" width="0.6" height="19.8" fill="#1ea51e" fill-opacity="0.25"/>
<rect x="397.8" y="546.0" width="0.8" height="19.8" fill="#1ea51e" fill-opacity="0.85"/>
<rect x="400.0" y="546.0" width="0.8" height="19.8" fill="#1ea51e" fill-opacity="0.35"/>
<rect x="401.3" y="546.0" width="0.8" height="19.8" fill="#1ea51e" fill-opacity="0.5"/>
<rect x="403.1" y="546.0" width="0.8" height="19.8" fill="#1ea51e" fill-opacity="0.7"/>
<rect x="405.9" y="546.0" width="1.0" height="19.8" fill="#1ea51e" fill-opacity="0.5"/>
<rect x="408.9" y="546.0" width="0.8" height="19.8" fill="#1ea51e" fill-opacity="0.6"/>
<rect x="410.2" y="546.0" width="1.0" height="19.8" fill="#1ea51e" fill-opacity="0.85"/>
<rect x="412.6" y="546.0" width="1.2" height="19.8" fill="#1ea51e" fill-opacity="0.85"/>
<rect x="415.8" y="546.0" width="0.8" height="19.8" fill="#1ea51e" fill-opacity="0.35"/>
<rect x="418.6" y="546.0" width="0.6" height="19.8" fill="#1ea51e" fill-opacity="0.7"/>
<rect x="420.6" y="546.0" width="0.6" height="19.8" fill="#1ea51e" fill-opacity="0.35"/>
<rect x="422.0" y="546.0" width="0.8" height="19.8" fill="#1ea51e" fill-opacity="0.35"/>
<rect x="424.2" y="546.0" width="0.6" height="19.8" fill="#1ea51e" fill-opacity="0.7"/>
<rect x="426.8" y="546.0" width="1.0" height="19.8" fill="#1ea51e" fill-opacity="0.25"/>
<rect x="429.8" y="546.0" width="1.2" height="19.8" fill="#1ea51e" fill-opacity="0.7"/>
<rect x="431.5" y="546.0" width="0.6" height="19.8" fill="#1ea51e" fill-opacity="0.7"/>
<rect x="432.9" y="546.0" width="1.0" height="19.8" fill="#1ea51e" fill-opacity="0.35"/>
<rect x="434.4" y="546.0" width="1.2" height="19.8" fill="#1ea51e" fill-opacity="0.25"/>
<rect x="437.6" y="546.0" width="0.6" height="19.8" fill="#1ea51e" fill-opacity="0.25"/>
<rect x="439.6" y="546.0" width="0.8" height="19.8" fill="#1ea51e" fill-opacity="0.5"/>
<rect x="441.4" y="546.0" width="1.2" height="19.8" fill="#1ea51e" fill-opacity="0.6"/>
<rect x="447.6" y="546.0" width="1.2" height="19.8" fill="#1ea51e" fill-opacity="0.35"/>
<rect x="449.6" y="546.0" width="0.6" height="19.8" fill="#1ea51e" fill-opacity="0.6"/>
<rect x="451.6" y="546.0" width="1.0" height="19.8" fill="#1ea51e" fill-opacity="0.6"/>
<rect x="453.1" y="546.0" width="0.8" height="19.8" fill="#1ea51e" fill-opacity="0.85"/>
<rect x="455.3" y="546.0" width="0.8" height="19.8" fill="#1ea51e" fill-opacity="0.25"/>
<rect x="457.1" y="546.0" width="0.8" height="19.8" fill="#1ea51e" fill-opacity="0.25"/>
<rect x="458.9" y="546.0" width="1.0" height="19.8" fill="#1ea51e" fill-opacity="0.35"/>
<rect x="460.7" y="546.0" width="0.8" height="19.8" fill="#1ea51e" fill-opacity="0.6"/>
<rect x="462.0" y="546.0" width="1.2" height="19.8" fill="#1ea51e" fill-opacity="0.6"/>
<rect x="464.0" y="546.0" width="0.8" height="19.8" fill="#1ea51e" fill-opacity="0.85"/>
<rect x="465.6" y="546.0" width="1.2" height="19.8" fill="#1ea51e" fill-opacity="0.85"/>
<rect x="468.8" y="546.0" width="1.0" height="19.8" fill="#1ea51e" fill-opacity="0.6"/>
<rect x="471.2" y="546.0" width="1.0" height="19.8" fill="#1ea51e" fill-opacity="0.35"/>
<rect x="473.2" y="546.0" width="1.0" height="19.8" fill="#1ea51e" fill-opacity="0.25"/>
<rect x="474.7" y="546.0" width="1.2" height="19.8" fill="#1ea51e" fill-opacity="0.5"/>
<rect x="477.3" y="546.0" width="0.6" height="19.8" fill="#1ea51e" fill-opacity="0.85"/>
<rect x="189.6" y="568.9" width="295.2" height="17.4" fill="#e7dfdf"/>
<rect x="297.8" y="568.9" width="182.9" height="17.4" fill="#4f1212"/>
<rect x="297.8" y="121.4" width="184.6" height="464.9" fill="#000000" fill-opacity="0.1"/>
<rect x="297.8" y="592.1" width="184.1" height="12.4" fill="#000000"/>
<text x="389.5" y="627.4" font-size="17.8" text-anchor="middle" fill="#000">Core genome</text>
<text x="180.2" y="516.3" font-size="18" text-anchor="end" fill="#000" textLength="178.2" lengthAdjust="spacingAndGlyphs">COG20 CATEGORY</text>
<text x="180.2" y="538.9" font-size="18" text-anchor="end" fill="#000" textLength="171.8" lengthAdjust="spacingAndGlyphs">COG20 FUNCTION</text>
<text x="180.2" y="561.6" font-size="18" text-anchor="end" fill="#000" textLength="161.7" lengthAdjust="spacingAndGlyphs">COG20 PATHWAY</text>
<text x="181.4" y="583.5" font-size="18" text-anchor="end" fill="#6b1e1e" textLength="109" lengthAdjust="spacingAndGlyphs">SCG Clusters</text>
<rect x="490.95" y="121.65" width="20.7" height="38.70" rx="0.5" fill="#5c9dff" stroke="#1c1c1c" stroke-width="1.3"/>
<rect x="515.15" y="121.65" width="20.5" height="38.70" rx="0.5" fill="#945e0c" stroke="#1c1c1c" stroke-width="1.3"/>
<rect x="490.95" y="163.75" width="20.7" height="38.50" rx="0.5" fill="#5c9dff" stroke="#1c1c1c" stroke-width="1.3"/>
<rect x="515.15" y="163.75" width="20.5" height="38.50" rx="0.5" fill="#945e0c" stroke="#1c1c1c" stroke-width="1.3"/>
<rect x="490.95" y="206.15" width="20.7" height="38.10" rx="0.5" fill="#ffff88" stroke="#1c1c1c" stroke-width="1.3"/>
<rect x="515.15" y="206.15" width="20.5" height="38.10" rx="0.5" fill="#fbb162" stroke="#1c1c1c" stroke-width="1.3"/>
<rect x="490.95" y="248.45" width="20.7" height="37.80" rx="0.5" fill="#ffff88" stroke="#1c1c1c" stroke-width="1.3"/>
<rect x="515.15" y="248.45" width="20.5" height="37.80" rx="0.5" fill="#fbb162" stroke="#1c1c1c" stroke-width="1.3"/>
<rect x="490.95" y="290.05" width="20.7" height="38.50" rx="0.5" fill="#9cc4ff" stroke="#1c1c1c" stroke-width="1.3"/>
<rect x="515.15" y="290.05" width="20.5" height="38.50" rx="0.5" fill="#945e0c" stroke="#1c1c1c" stroke-width="1.3"/>
<rect x="490.95" y="332.35" width="20.7" height="38.30" rx="0.5" fill="#ffff88" stroke="#1c1c1c" stroke-width="1.3"/>
<rect x="515.15" y="332.35" width="20.5" height="38.30" rx="0.5" fill="#fbb162" stroke="#1c1c1c" stroke-width="1.3"/>
<rect x="490.95" y="374.95" width="20.7" height="37.90" rx="0.5" fill="#5c9dff" stroke="#1c1c1c" stroke-width="1.3"/>
<rect x="515.15" y="374.95" width="20.5" height="37.90" rx="0.5" fill="#945e0c" stroke="#1c1c1c" stroke-width="1.3"/>
<rect x="490.95" y="416.85" width="20.7" height="37.80" rx="0.5" fill="#ffff88" stroke="#1c1c1c" stroke-width="1.3"/>
<rect x="515.15" y="416.85" width="20.5" height="37.80" rx="0.5" fill="#fbb162" stroke="#1c1c1c" stroke-width="1.3"/>
<rect x="490.95" y="458.95" width="20.7" height="38.10" rx="0.5" fill="#5c9dff" stroke="#1c1c1c" stroke-width="1.3"/>
<rect x="515.15" y="458.95" width="20.5" height="38.10" rx="0.5" fill="#945e0c" stroke="#1c1c1c" stroke-width="1.3"/>
<g fill="none" stroke="#000" stroke-width="1.8" stroke-linecap="butt" stroke-linejoin="round">
<path d="M574.9 140.9H539.0" stroke-dasharray="2 2.14" stroke-dashoffset="2"/>
<path d="M556.8 182.9H539.0" stroke-dasharray="2 2.14" stroke-dashoffset="2"/>
<path d="M539.2 225.2h1.2 M539.2 267.3h1.2" stroke-opacity="0.45"/>
<path d="M541.6 225.2H558.5V267.3H541.6"/>
<path d="M556.8 182.9H577.0V246.2H558.5"/>
<path d="M574.9 140.9H598.5V214.6H577.0"/>
<path d="M554.7 309.2H539.0" stroke-dasharray="2 2.14" stroke-dashoffset="2"/>
<path d="M551.5 435.7H539.0" stroke-dasharray="2 2.14" stroke-dashoffset="2"/>
<path d="M551.5 478.0H539.0" stroke-dasharray="2 2.14" stroke-dashoffset="2"/>
<path d="M539.2 351.5H557.0V393.9H539.2"/>
<path d="M554.7 309.2H576.0V372.7H557.0"/>
<path d="M551.5 435.7H576.0V478.0H551.5"/>
<path d="M576.0 341.0H598.5V456.8H576.0"/>
<path d="M598.5 177.8H625.7V398.9H598.5"/>
</g>
<g fill="none" stroke="#0a0a0a" stroke-width="1.35">
<path d="M232.3 0V56.6 M205.8 77.2V56.6H259.7V77.2"/>
<path d="M198.4 91.4V77.2H213.4V91.4"/>
<path d="M194 96.6V91.4H202.6V97 M209.5 95.7V91.4H217.2V96"/>
<path d="M248.1 88.2V77.2H271.3V87.9"/>
<path d="M263.7 94.1V87.9H278V94.1 M260.5 99.2V94.1H267.8V99.2 M274.8 98.6V94.1H281.2V98.6"/>
<path d="M271.3 98.8H282.8V100.5H271.3Z M278.9 100.5V103.3"/>
<path d="M265.3 103.5V99.2H269.4V103"/>
<path d="M239.1 88.2H256.9V94.3H239.1Z M233.6 94.3H244.6V98.6H233.6Z M229.5 98.6H236.4V102.6H229.5Z M227 102.6H231.8V105.6H227Z M225.2 105.6H229.2V108.2H225.2Z M223.6 108.2H227.2V110.6H223.6Z M222.2 110.6H225.5V112.8H222.2Z M221 112.8H224V115H221Z M220 115H222.8V117H220Z M219.6 117H221.8V118.4H219.6Z"/>
<path d="M397.2 0V56.4 M313 65.3V56.4H482.2V65.2"/>
<path d="M286.1 69.5V65.3H340.3V69.3"/>
<path d="M291.6 72V69.4H388.3V72"/>
</g>
<path d="M297 72.7H482.4" fill="none" stroke="#000" stroke-width="1.7"/>
<rect x="297" y="69.8" width="91" height="2.2" fill="#8a8a8a"/>
<g fill="none" stroke="#000" stroke-width="1.2">
<path d="M191.4 99.5V96.6H196.6V101.5 M193.7 99.7H199.5V101.7H193.7Z"/>
<path d="M206.9 99.5V95.7H211.8V100.5 M206.2 99.6H208.4V102.6H206.2Z"/>
</g>
<g fill="#000" stroke="#000" stroke-width="0.6" stroke-linejoin="round">
<path d="M190.4 99 L192.6 99 L192.6 102 L190.2 105.4 L188.9 105.6 L189.4 101.5Z"/>
<path d="M193.2 102.2 L195.3 102.2 L193.4 104.6 L192.2 104.6Z"/>
<path d="M201.2 97.6 L203.4 96.6 L204.9 100.4 L203.2 101.6 L200.4 100.6Z"/>
<path d="M204.6 103 L207 102.6 L206.6 105.4 L204.9 106.6Z"/>
<path d="M209.4 101 L212.3 101 L211.6 105 L209.6 106.9 L208.8 104Z"/>
<path d="M215.1 97 L217.5 95.6 L219.4 99 L218.8 102.4 L216.4 104 L214.9 101Z"/>
<path d="M259.6 99 L261.4 99 L262.6 104.5 L261.4 107.2 L257.2 108.6 L258 104Z"/>
<path d="M264.6 103.5 L266.2 103.5 L266 105.2 L264.2 105.2Z"/>
<path d="M269 102.5 L271.2 100.6 L270.4 104.4 L268.6 106.6 L267.6 105Z"/>
<path d="M285.6 69 L287.4 70.4 L288.3 74.4 L287 77.6 L284.6 80 L282.4 80.8 L283.4 76 L284.4 72Z"/>
<path d="M291.4 70.6 L294 72.6 L297.6 72.6 L296.2 76.8 L294.6 79.4 L291.2 79 L289.6 76 L288.6 74Z"/>
</g>
<g fill="#fff">
<path d="M285.6 71.5L286.8 74.5L285.2 75.5Z"/><path d="M291.6 73.4L294.2 73.6L293 76.4Z"/><rect x="294.6" y="75" width="1.4" height="1.6"/>
<rect x="259.8" y="100.4" width="1.2" height="3"/><rect x="216.4" y="98" width="1.2" height="1.6"/>
</g>
<rect x="480.9" y="65.2" width="2.6" height="5" fill="#8a8a8a" stroke="#000" stroke-width="0.9"/>
<ellipse cx="482.4" cy="72.6" rx="2.4" ry="2.8" fill="#000"/>
<rect x="116.7" y="648.3" width="395.2" height="106.1" fill="#fff" stroke="#2a2a2a" stroke-width="1.2"/>
<text x="127.2" y="672.9" font-size="20.2" font-weight="bold" fill="#000">Origin</text>
<text x="259.2" y="672.9" font-size="20.2" font-weight="bold" fill="#000">Source</text>
<rect x="129.3" y="685.75" width="29.2" height="29.1" fill="#ffff88" stroke="#111" stroke-width="1.5"/>
<rect x="129.3" y="714.85" width="29.2" height="29.1" fill="#5c9dff" stroke="#111" stroke-width="1.5"/>
<rect x="260.65" y="685.75" width="29.2" height="29.1" fill="#fbb162" stroke="#111" stroke-width="1.5"/>
<rect x="260.65" y="714.85" width="29.2" height="29.1" fill="#945e0c" stroke="#111" stroke-width="1.5"/>
<text x="162.3" y="707.0" font-size="20.2" fill="#000">Broiler</text>
<text x="162.3" y="736.0" font-size="20.2" fill="#000">Human</text>
<text x="294.3" y="707.0" font-size="20.2" fill="#000">Farm</text>
<text x="294.3" y="736.0" font-size="20.2" fill="#000" textLength="206.5" lengthAdjust="spacingAndGlyphs">Clinical (non-outbreak)</text>
</svg>
</body>
</html>
